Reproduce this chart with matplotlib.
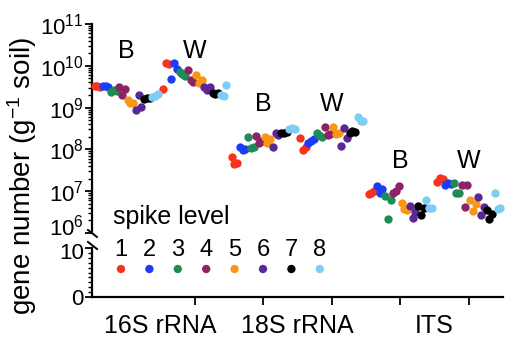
import numpy as np
import matplotlib
matplotlib.use("Agg")
import matplotlib.pyplot as plt
import matplotlib.transforms as mtransforms
from matplotlib.lines import Line2D
from matplotlib.ticker import LogLocator, NullFormatter, FixedLocator, FixedFormatter

plt.rcParams['font.family'] = ['Liberation Sans', 'DejaVu Sans']
plt.rcParams['mathtext.fontset'] = 'custom'
plt.rcParams['mathtext.rm'] = 'Liberation Sans'
plt.rcParams['mathtext.it'] = 'Liberation Sans:italic'

# spike levels and their colours
levels = [1, 2, 3, 4, 5, 6, 7, 8]
colors = ['#F5331E', '#1E3CF5', '#1E8C55', '#8C2364',
          '#FA9614', '#5A2896', '#000000', '#7DCDF5']

genes = ["16S rRNA", "18S rRNA", "ITS"]
sites = ["B", "W"]

# log10 gene number per g soil, rows = spike level 1-8, 3 replicates each
s16_B = [[9.52, 9.52, 9.50], [9.52, 9.51, 9.50], [9.37, 9.42, 9.40], [9.50, 9.30, 9.44],
         [9.17, 9.11, 9.12], [8.94, 9.30, 9.01], [9.21, 9.22, 9.24], [9.25, 9.28, 9.33]]
s16_W = [[9.44, 10.07, 10.05], [9.68, 10.07, 9.92], [9.85, 9.80, 9.75], [9.90, 9.66, 9.62],
         [9.78, 9.59, 9.66], [9.49, 9.42, 9.49], [9.35, 9.33, 9.36], [9.30, 9.28, 9.54]]
s18_B = [[7.82, 7.65, 7.67], [8.06, 7.99, 8.00], [8.30, 8.03, 8.05], [8.32, 8.15, 8.20],
         [8.30, 8.15, 8.25], [8.06, 8.39, 8.34], [8.39, 8.40, 8.42], [8.49, 8.51, 8.50]]
s18_W = [[8.27, 7.99, 8.05], [8.15, 8.20, 8.25], [8.39, 8.34, 8.30], [8.54, 8.34, 8.36],
         [8.54, 8.37, 8.40], [8.08, 8.51, 8.27], [8.39, 8.44, 8.42], [8.78, 8.68, 8.68]]
its_B = [[6.93, 6.95, 7.00], [7.12, 6.95, 7.05], [6.89, 6.33, 6.79], [6.96, 7.00, 7.12],
         [6.72, 6.57, 6.55], [6.65, 6.36, 6.50], [6.65, 6.43, 6.60], [6.79, 6.60, 6.60]]
its_W = [[7.22, 7.32, 7.28], [7.15, 7.20, 7.18], [7.20, 6.96, 6.96], [7.15, 6.62, 7.15],
         [6.79, 6.53, 6.69], [6.86, 6.43, 6.62], [6.55, 6.33, 6.45], [6.96, 6.57, 6.60]]

groups = [s16_B, s16_W, s18_B, s18_W, its_B, its_W]
label_heights = [10.35, 9.09, 7.72]   # log10 height of the B / W labels per gene

fig = plt.figure(figsize=(5.14, 3.51), dpi=100)
W, H = 514, 351

def fax(x0, y0, x1, y1):
    # pixel box -> figure axes
    return fig.add_axes([x0 / W, 1 - y1 / H, (x1 - x0) / W, (y1 - y0) / H])

ax_top = fax(92, 24, 503, 233)
ax_bot = fax(92, 248, 503, 297)

lw = 1.6
for ax in (ax_top, ax_bot):
    for s in ['top', 'right']:
        ax.spines[s].set_visible(False)
    ax.spines['left'].set_linewidth(lw)
    ax.set_xlim(0.5, 6.5)
    ax.tick_params(axis='both', which='major', width=1.3, length=5, labelsize=16)
    ax.tick_params(axis='y', which='minor', width=1.0, length=3)
ax_top.spines['bottom'].set_visible(False)
ax_bot.spines['bottom'].set_linewidth(lw)

def nudge(label, dy_pt):
    label.set_transform(label.get_transform() +
                        mtransforms.ScaledTranslation(0, dy_pt / 72, fig.dpi_scale_trans))

# log part
ax_top.set_yscale('log')
ax_top.set_ylim(1e6, 1e11)
ax_top.yaxis.set_minor_locator(LogLocator(base=10, subs=np.arange(2, 10), numticks=20))
ax_top.yaxis.set_minor_formatter(NullFormatter())
ax_top.set_yticks([1e6, 1e7, 1e8, 1e9, 1e10, 1e11])
ax_top.set_yticklabels([r'$\mathregular{10^{%d}}$' % e for e in range(6, 12)])
ax_top.tick_params(axis='y', which='major', pad=1)
ax_top.set_xticks([])

# linear part
ax_bot.set_ylim(0, 10)
ax_bot.set_yticks([0, 10])
ax_bot.yaxis.set_minor_locator(FixedLocator(np.arange(1, 10)))
ax_bot.tick_params(axis='y', which='major', pad=1)
ax_bot.set_xticks([2, 3, 4, 5, 6])
ax_bot.set_xticklabels([])
ax_bot.tick_params(axis='x', which='major', length=6, width=1.3)
ax_bot.xaxis.set_minor_locator(FixedLocator([1.5, 3.5, 5.5]))
ax_bot.xaxis.set_minor_formatter(FixedFormatter(genes))
ax_bot.tick_params(axis='x', which='minor', length=0, pad=12, labelsize=18)

# keep 10^6 and 10 apart at the break
nudge(ax_top.yaxis.get_major_ticks()[0].label1, 6)
nudge(ax_bot.yaxis.get_major_ticks()[1].label1, -2)

# points
step = 0.04
for gi, grp in enumerate(groups):
    center = gi + 1
    vals = np.array(grp)
    k = 0
    for li in range(len(levels)):
        for rep in range(vals.shape[1]):
            x = center + (k - 11.5) * step
            ax_top.scatter(x, 10 ** vals[li, rep], s=36, color=colors[li],
                           linewidths=0, zorder=3 + k, clip_on=False)
            k += 1
    ax_top.text(center, 10 ** label_heights[gi // 2], sites[gi % 2], fontsize=18,
                ha='center', va='center')

fig.text(22 / W, 1 - 176 / H, r'gene number (g$^{-1}$ soil)', rotation=90,
         fontsize=20, ha='center', va='center')

# axis break marks
for y0 in (230, 242):
    fig.add_artist(Line2D([88 / W, 97 / W], [1 - y0 / H, 1 - (y0 + 7) / H],
                          color='black', lw=1.4))

# legend
fig.text(171 / W, 1 - 217 / H, 'spike level', fontsize=18, ha='center', va='center')
lx = [121 + i * 28.4 for i in range(len(levels))]
for i, lev in enumerate(levels):
    fig.text(lx[i] / W, 1 - 250 / H, str(lev), fontsize=17, ha='center', va='center')
ax_bot.scatter([x / W for x in lx], [1 - 269 / H] * len(levels), s=36, c=colors,
               linewidths=0, transform=fig.transFigure, clip_on=False)

fig.savefig('out.png', dpi=100)
